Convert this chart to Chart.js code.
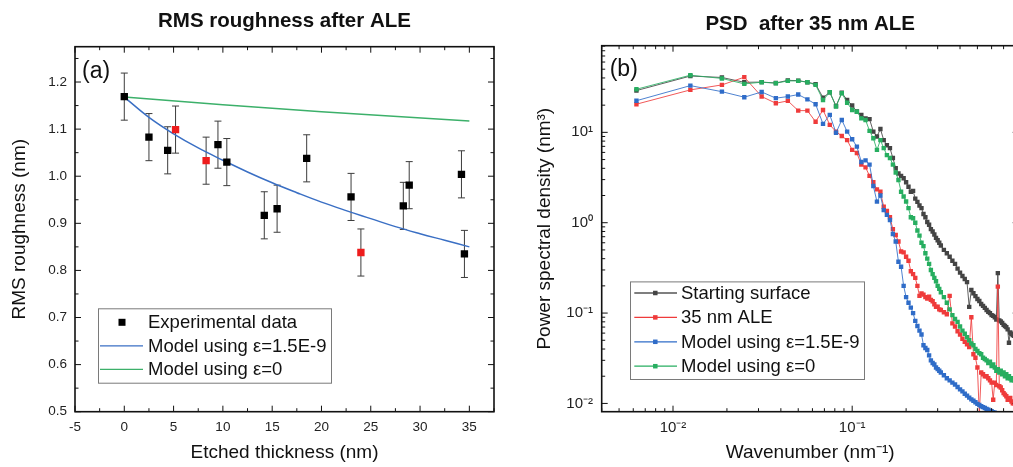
<!DOCTYPE html>
<html><head><meta charset="utf-8">
<script src="https://cdn.jsdelivr.net/npm/chart.js@4.4.1/dist/chart.umd.min.js"></script>
<style>
html,body{margin:0;padding:0;background:#fff;overflow:hidden;width:1013px;height:467px;}
#wrapA{position:absolute;left:0;top:0;width:520px;height:467px;}
#wrapB{position:absolute;left:520px;top:0;width:520px;height:467px;}
canvas{display:block;}
</style></head><body>
<div id="wrapA"><canvas id="cA" width="520" height="467"></canvas></div>
<div id="wrapB"><canvas id="cB" width="520" height="467"></canvas></div>
<script>
// ---------- Panel (a): RMS roughness ----------
const thickBlack = [0, 2.5, 4.4, 9.5, 10.4, 14.2, 15.5, 18.5, 23.0, 28.3, 28.9, 34.2, 34.5];
const rmsBlack   = [1.169, 1.083, 1.055, 1.067, 1.030, 0.917, 0.931, 1.038, 0.956, 0.937, 0.981, 1.004, 0.835];
const errBlack   = [0.05, 0.05, 0.05, 0.05, 0.05, 0.05, 0.05, 0.05, 0.05, 0.05, 0.05, 0.05, 0.05];
const thickRed   = [5.2, 8.3, 24.0];
const rmsRed     = [1.099, 1.033, 0.838];
const errRed     = [0.05, 0.05, 0.05];
const modelEpsX  = [0, 2.5, 5, 7.5, 10, 12.5, 15, 17.5, 20, 22.5, 25, 27.5, 30, 32.5, 35];
const modelEpsY  = [1.168, 1.125, 1.090, 1.060, 1.034, 1.009, 0.986, 0.965, 0.945, 0.927, 0.910, 0.893, 0.878, 0.864, 0.850];
const modelZeroX = [0, 10, 20, 35];
const modelZeroY = [1.168, 1.152, 1.137, 1.117];
const aXTicks = [-5, 0, 5, 10, 15, 20, 25, 30, 35];
const aXTickLabels = ['-5', '0', '5', '10', '15', '20', '25', '30', '35'];
const aXMinor = [-2.5, 2.5, 7.5, 12.5, 17.5, 22.5, 27.5, 32.5, 37.5];
const aYTicks = [0.5, 0.6, 0.7, 0.8, 0.9, 1.0, 1.1, 1.2];
const aYTickLabels = ['0.5', '0.6', '0.7', '0.8', '0.9', '1.0', '1.1', '1.2'];
const aYMinor = [0.55, 0.65, 0.75, 0.85, 0.95, 1.05, 1.15, 1.25];

// ---------- Panel (b): PSD ----------
const waveNumber = [
0.00625,0.0125,0.01875,0.025,0.03125,0.0375,0.04375,0.05,0.05625,0.0625,
0.06875,0.075,0.08125,0.0875,0.09375,0.1,0.10625,0.1125,0.11875,0.125,
0.13125,0.1375,0.14375,0.15,0.15625,0.1625,0.16875,0.175,0.18125,0.1875,
0.19375,0.2,0.20625,0.2125,0.21875,0.225,0.23125,0.2375,0.24375,0.25,
0.25625,0.2625,0.26875,0.275,0.28125,0.2875,0.29375,0.3,0.30625,0.3125,
0.325,0.3375,0.35,0.3625,0.375,0.3875,0.4,0.4125,0.425,0.4375,
0.45,0.4625,0.475,0.4875,0.5,0.5125,0.525,0.5375,0.55,0.5625,
0.575,0.5875,0.6,0.6125,0.625,0.6375,0.65,0.6625,0.675,0.6875,
0.7,0.7125,0.725,0.7375,0.75,0.7625,0.775,0.7875,0.8];
const psdStart = [
29.0,42.0,40.5,35.8,36.0,35.2,37.6,37.4,35.9,34.2,
24.2,27.8,19.6,27.4,22.8,19.8,17.0,15.6,14.3,14.0,
10.2,9.0,10.9,8.2,7.2,6.7,5.2,4.0,3.5,3.3,
3.1,2.8,2.5,2.2,2.25,1.85,1.7,1.55,1.45,1.25,
1.15,1.02,0.95,0.85,0.8,0.74,0.68,0.64,0.6,0.56,
0.5,0.46,0.42,0.38,0.35,0.31,0.28,0.257,0.238,0.22,
0.117,0.18,0.166,0.154,0.143,0.136,0.126,0.12,0.114,0.108,
0.103,0.1,0.095,0.093,0.09,0.085,0.277,0.083,0.081,0.078,
0.074,0.072,0.07,0.066,0.047,0.061,0.059,0.057,0.056];
const psdAle = [
20.5,29.5,33.5,40.8,24.9,21.0,22.3,17.4,17.4,13.1,
17.7,12.1,10.2,9.1,8.2,6.4,5.9,4.4,4.1,3.3,
2.8,2.34,2.2,1.5,1.35,1.15,0.85,0.73,0.62,0.48,
0.47,0.42,0.38,0.29,0.27,0.245,0.2,0.155,0.165,0.16,
0.15,0.145,0.152,0.14,0.135,0.125,0.117,0.118,0.11,0.108,
0.102,0.097,0.155,0.077,0.071,0.063,0.058,0.052,0.048,0.045,
0.042,0.09,0.035,0.032,0.025,0.0075,0.022,0.021,0.02,0.02,
0.019,0.018,0.017,0.011,0.017,0.016,0.196,0.0155,0.015,0.014,
0.013,0.0125,0.012,0.011,0.011,0.0115,0.0105,0.01,0.01];
const psdModelEps = [
22.4,32.9,28.2,24.5,28.0,23.9,24.9,26.2,23.2,20.5,
12.4,15.6,9.9,13.7,10.2,8.4,6.95,4.7,4.9,4.4,
2.55,1.71,2.0,1.38,1.22,1.07,0.75,0.62,0.37,0.326,
0.2,0.15,0.13,0.115,0.1,0.082,0.072,0.064,0.058,0.044,
0.041,0.039,0.034,0.03,0.028,0.027,0.025,0.024,0.023,0.022,
0.0205,0.019,0.018,0.017,0.0162,0.0152,0.0143,0.0136,0.0128,0.0122,
0.0116,0.0111,0.0107,0.0103,0.0099,0.0096,0.0093,0.0091,0.0089,0.0087,
0.0085,0.0083,0.0082,0.008,0.0079,0.0077,0.0076,0.0075,0.0073,0.0072,
0.0071,0.007,0.0069,0.0068,0.0067,0.0066,0.0065,0.0064,0.0063];
const psdModelZero = [
30.0,42.9,39.5,34.4,35.9,35.0,37.1,37.1,35.9,33.5,
22.8,27.8,19.3,27.1,21.3,17.7,16.9,14.3,13.7,10.4,
8.6,6.4,8.2,6.7,5.6,5.2,4.4,3.6,2.97,2.2,
1.95,1.72,1.45,1.15,1.12,1.0,0.82,0.72,0.6,0.55,
0.46,0.4,0.35,0.3,0.27,0.245,0.225,0.2,0.185,0.17,
0.15,0.13,0.11,0.095,0.086,0.08,0.071,0.064,0.059,0.054,
0.05,0.046,0.044,0.04,0.038,0.036,0.035,0.032,0.031,0.03,
0.028,0.029,0.026,0.027,0.025,0.023,0.024,0.022,0.023,0.021,
0.022,0.02,0.021,0.019,0.02,0.019,0.018,0.019,0.018];
const bXTicks = [0.01, 0.1];
const bXTickLabels = ['10\u207B\u00B2', '10\u207B\u00B9'];
const bXMinor = [0.004,0.005,0.006,0.007,0.008,0.009,0.02,0.03,0.04,0.05,0.06,0.07,0.08,0.09,0.2,0.3,0.4,0.5,0.6,0.7,0.8];
const bYTicks = [0.01, 0.1, 1, 10];
const bYTickLabels = ['10\u207B\u00B2', '10\u207B\u00B9', '10\u2070', '10\u00B9'];
const bYMinor = [0.02,0.03,0.04,0.05,0.06,0.07,0.08,0.09,0.2,0.3,0.4,0.5,0.6,0.7,0.8,0.9,2,3,4,5,6,7,8,9,20,30,40,50,60,70,80,90];

const FONT = "'Liberation Sans', Arial, Helvetica, sans-serif";

// ---------- plugins ----------
const frameTicks = {
  id: 'frameTicks',
  afterDraw(chart, args, o) {
    const {ctx, chartArea: a} = chart;
    const xs = chart.scales.x, ys = chart.scales.y;
    ctx.save();
    ctx.strokeStyle = '#111';
    ctx.lineWidth = 1;
    ctx.beginPath();
    const xt = (vals, len) => vals.forEach(v => {
      const p = xs.getPixelForValue(v);
      if (p < a.left - 0.5 || p > a.right + 0.5) return;
      ctx.moveTo(p, a.bottom); ctx.lineTo(p, a.bottom - len);
      ctx.moveTo(p, a.top); ctx.lineTo(p, a.top + len);
    });
    const yt = (vals, len) => vals.forEach(v => {
      const p = ys.getPixelForValue(v);
      if (p < a.top - 0.5 || p > a.bottom + 0.5) return;
      ctx.moveTo(a.left, p); ctx.lineTo(a.left + len, p);
      ctx.moveTo(a.right, p); ctx.lineTo(a.right - len, p);
    });
    xt(o.xMajor, 6); xt(o.xMinor, 3.5); yt(o.yMajor, 6); yt(o.yMinor, 3.5);
    ctx.stroke();
    ctx.lineWidth = 1.6;
    ctx.strokeRect(a.left, a.top, a.right - a.left, a.bottom - a.top);
    ctx.restore();
  }
};

const errorBars = {
  id: 'errorBars',
  beforeDatasetsDraw(chart) {
    const {ctx} = chart;
    const ys = chart.scales.y, xs = chart.scales.x;
    ctx.save();
    ctx.strokeStyle = '#3c3c3c';
    ctx.lineWidth = 1;
    chart.data.datasets.forEach(ds => {
      if (!ds.errors) return;
      ds.data.forEach((pt, i) => {
        const e = ds.errors[i];
        const px = xs.getPixelForValue(pt.x);
        const p1 = ys.getPixelForValue(pt.y + e), p2 = ys.getPixelForValue(pt.y - e);
        ctx.beginPath();
        ctx.moveTo(px, p1); ctx.lineTo(px, p2);
        ctx.moveTo(px - 3.5, p1); ctx.lineTo(px + 3.5, p1);
        ctx.moveTo(px - 3.5, p2); ctx.lineTo(px + 3.5, p2);
        ctx.stroke();
      });
    });
    ctx.restore();
  }
};

const boxLegend = {
  id: 'boxLegend',
  afterDraw(chart, args, o) {
    const {ctx, chartArea: a} = chart;
    const x0 = a.left + o.x, y0 = a.top + o.y;
    ctx.save();
    ctx.fillStyle = '#fff';
    ctx.fillRect(x0, y0, o.w, o.h);
    ctx.strokeStyle = '#7a7a7a';
    ctx.lineWidth = 1;
    ctx.strokeRect(x0 + 0.5, y0 + 0.5, o.w, o.h);
    ctx.font = o.font;
    ctx.textBaseline = 'middle';
    o.items.forEach((it, i) => {
      const cy = y0 + o.first + i * o.gap;
      if (it.line) {
        ctx.strokeStyle = it.color; ctx.lineWidth = 1.3;
        ctx.beginPath(); ctx.moveTo(x0 + o.l0, cy); ctx.lineTo(x0 + o.l1, cy); ctx.stroke();
      }
      if (it.marker) {
        const s = o.ms;
        ctx.fillStyle = it.marker;
        ctx.fillRect(x0 + o.mx - s / 2, cy - s / 2, s, s);
      }
      ctx.fillStyle = '#111';
      ctx.fillText(it.label, x0 + o.tx, cy + 1);
    });
    ctx.restore();
  }
};

const panelLabel = {
  id: 'panelLabel',
  afterDraw(chart, args, o) {
    const {ctx, chartArea: a} = chart;
    ctx.save();
    ctx.font = "23px " + FONT;
    ctx.fillStyle = '#111';
    ctx.textBaseline = 'middle';
    ctx.fillText(o.text, a.left + o.dx, o.cy);
    ctx.restore();
  }
};

function labelFrom(vals, labels) {
  return (v) => { const i = vals.findIndex(t => Math.abs(t - v) < 1e-9 * Math.max(1, Math.abs(t))); return i >= 0 ? labels[i] : ''; };
}
function pts(xs, ys) { return xs.map((x, i) => ({x: x, y: ys[i]})); }

// ---------- Chart (a) ----------
new Chart(document.getElementById('cA'), {
  type: 'scatter',
  data: {
    datasets: [
      {label: 'Experimental data', data: pts(thickBlack, rmsBlack), errors: errBlack,
       pointStyle: 'rect', pointRadius: 5.2, pointHoverRadius: 5.2, pointBackgroundColor: '#000', pointBorderWidth: 0, showLine: false},
      {label: 'Experimental data (red)', data: pts(thickRed, rmsRed), errors: errRed,
       pointStyle: 'rect', pointRadius: 5.2, pointHoverRadius: 5.2, pointBackgroundColor: '#ee1c1c', pointBorderWidth: 0, showLine: false},
      {label: 'Model using \u03B5=1.5E-9', data: pts(modelEpsX, modelEpsY), showLine: true, tension: 0.4,
       borderColor: '#3a6fc4', borderWidth: 1.5, pointRadius: 0, pointHoverRadius: 0},
      {label: 'Model using \u03B5=0', data: pts(modelZeroX, modelZeroY), showLine: true,
       borderColor: '#3cb06a', borderWidth: 1.5, pointRadius: 0, pointHoverRadius: 0}
    ]
  },
  options: {
    responsive: false, animation: false,
    layout: {padding: {left: 0, right: 26, top: 0, bottom: 0}},
    plugins: {
      legend: {display: false}, tooltip: {enabled: false},
      title: {display: true, text: 'RMS roughness after ALE', fullSize: false, color: '#111',
              font: {family: FONT, size: 20.5, weight: 'bold', lineHeight: 1.2}, padding: {top: 9.4, bottom: 12.7}},
      frameTicks: {xMajor: aXTicks, xMinor: aXMinor, yMajor: aYTicks, yMinor: aYMinor},
      boxLegend: {x: 23, y: 261.6, w: 233, h: 74.4, first: 14, gap: 23.5, l0: 2, l1: 45, mx: 24, ms: 7, tx: 50,
        font: "18.5px " + FONT,
        items: [
          {label: 'Experimental data', marker: '#000'},
          {label: 'Model using \u03B5=1.5E-9', line: true, color: '#3a6fc4'},
          {label: 'Model using \u03B5=0', line: true, color: '#3cb06a'}
        ]},
      panelLabel: {text: '(a)', dx: 7, cy: 71.5}
    },
    scales: {
      x: {type: 'linear', min: -5, max: 37.5,
          afterBuildTicks: s => { s.ticks = aXTicks.map(v => ({value: v})); },
          afterFit: s => { s.height = 55.3; },
          grid: {display: false, drawTicks: false}, border: {display: false},
          ticks: {autoSkip: false, maxRotation: 0, padding: 7.5, color: '#222', font: {family: FONT, size: 13.5},
                  callback: labelFrom(aXTicks, aXTickLabels)},
          title: {display: true, text: 'Etched thickness (nm)', color: '#111', font: {family: FONT, size: 19, lineHeight: 1.2}, padding: {top: 0, bottom: 2.6}}},
      y: {type: 'linear', min: 0.5, max: 1.275,
          afterBuildTicks: s => { s.ticks = aYTicks.map(v => ({value: v})); },
          afterFit: s => { s.width = 75; },
          grid: {display: false, drawTicks: false}, border: {display: false},
          ticks: {autoSkip: false, padding: 8, color: '#222', font: {family: FONT, size: 13.5},
                  callback: labelFrom(aYTicks, aYTickLabels)},
          title: {display: true, text: 'RMS roughness (nm)', color: '#111', font: {family: FONT, size: 19, lineHeight: 1.2}, padding: {top: 8.6, bottom: 0}}}
    }
  },
  plugins: [errorBars, frameTicks, boxLegend, panelLabel]
});

// ---------- Chart (b) ----------
function psdSet(label, values, color, line) {
  return {label: label, data: pts(waveNumber, values), showLine: true, borderColor: line, borderWidth: 1,
          pointStyle: 'rect', pointRadius: 3.1, pointHoverRadius: 3.1, pointBackgroundColor: color, pointBorderWidth: 0, clip: 0};
}
new Chart(document.getElementById('cB'), {
  type: 'scatter',
  data: {
    datasets: [
      psdSet('Model using \u03B5=0', psdModelZero, '#27ae60', 'rgba(39,174,96,0.85)'),
      psdSet('Model using \u03B5=1.5E-9', psdModelEps, '#2f6cc8', 'rgba(47,108,200,0.85)'),
      psdSet('35 nm ALE', psdAle, '#ef3b3b', 'rgba(239,59,59,0.85)'),
      psdSet('Starting surface', psdStart, '#444444', 'rgba(68,68,68,0.85)')
    ]
  },
  options: {
    responsive: false, animation: false,
    layout: {padding: {left: 0, right: 21.3, top: 0, bottom: 0}},
    plugins: {
      legend: {display: false}, tooltip: {enabled: false},
      title: {display: true, text: 'PSD  after 35 nm ALE', fullSize: false, color: '#111',
              font: {family: FONT, size: 20.5, weight: 'bold', lineHeight: 1.2}, padding: {top: 11.7, bottom: 9.4}},
      frameTicks: {xMajor: bXTicks, xMinor: bXMinor, yMajor: bYTicks, yMinor: bYMinor},
      boxLegend: {x: 28.3, y: 235.7, w: 234, h: 97.6, first: 11.6, gap: 24.4, l0: 4.3, l1: 47, mx: 25.3, ms: 4.5, tx: 51,
        font: "18.5px " + FONT,
        items: [
          {label: 'Starting surface', line: true, color: '#555', marker: '#444'},
          {label: '35 nm ALE', line: true, color: '#ef3b3b', marker: '#ef3b3b'},
          {label: 'Model using \u03B5=1.5E-9', line: true, color: '#2f6cc8', marker: '#2f6cc8'},
          {label: 'Model using \u03B5=0', line: true, color: '#27ae60', marker: '#27ae60'}
        ]},
      panelLabel: {text: '(b)', dx: 8, cy: 70}
    },
    scales: {
      x: {type: 'logarithmic', min: 0.004, max: 0.85,
          afterBuildTicks: s => { s.ticks = bXTicks.map(v => ({value: v})); },
          afterFit: s => { s.height = 55.3; },
          grid: {display: false, drawTicks: false}, border: {display: false},
          ticks: {autoSkip: false, maxRotation: 0, padding: 7.3, color: '#222', font: {family: FONT, size: 15},
                  callback: labelFrom(bXTicks, bXTickLabels)},
          title: {display: true, text: 'Wavenumber (nm\u207B\u00B9)', color: '#111', font: {family: FONT, size: 19, lineHeight: 1.2}, padding: {top: 0, bottom: 2.6}}},
      y: {type: 'logarithmic', min: 0.0081, max: 91,
          afterBuildTicks: s => { s.ticks = bYTicks.map(v => ({value: v})); },
          afterFit: s => { s.width = 81.7; },
          grid: {display: false, drawTicks: false}, border: {display: false},
          ticks: {autoSkip: false, padding: 8.7, color: '#222', font: {family: FONT, size: 15},
                  callback: labelFrom(bYTicks, bYTickLabels)},
          title: {display: true, text: 'Power spectral density (nm\u00B3)', color: '#111', font: {family: FONT, size: 19, lineHeight: 1.2}, padding: {top: 13.6, bottom: 0}}}
    }
  },
  plugins: [frameTicks, boxLegend, panelLabel]
});
</script>
</body></html>
